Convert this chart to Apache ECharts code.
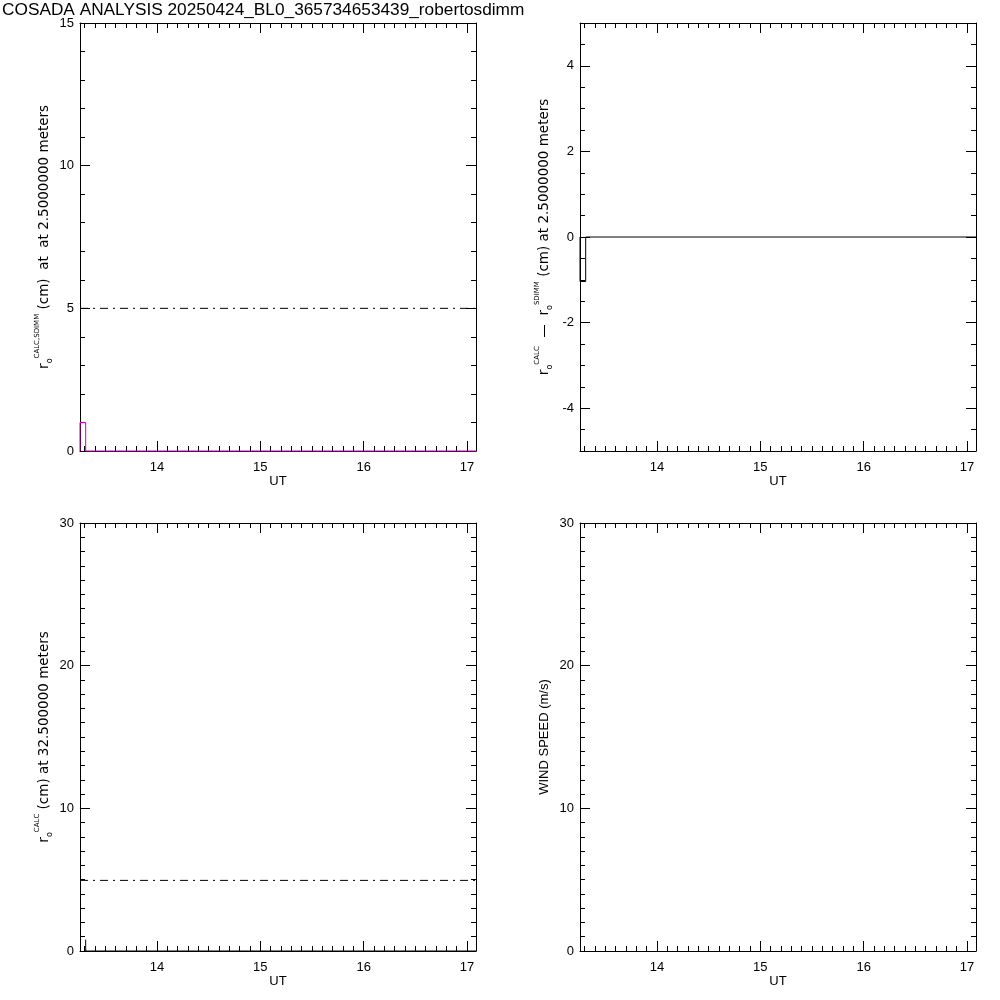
<!DOCTYPE html>
<html><head><meta charset="utf-8">
<script src="https://cdn.jsdelivr.net/npm/echarts@6/dist/echarts.min.js"></script>
<style>html,body{margin:0;padding:0;background:#fff}#c{width:1000px;height:1000px}</style>
</head><body><div id="c"></div>
<script>
// ---------- data ----------
const titleText = 'COSADA ANALYSIS 20250424_BL0_365734653439_robertosdimm';
const utRange = [13.255, 17.087];
const utMajorTicks = [14, 15, 16, 17];
const utMinorTicks = [13.3,13.4,13.5,13.6,13.7,13.8,13.9,14.1,14.2,14.3,14.4,14.5,14.6,14.7,14.8,14.9,
  15.1,15.2,15.3,15.4,15.5,15.6,15.7,15.8,15.9,16.1,16.2,16.3,16.4,16.5,16.6,16.7,16.8,16.9,17.0];

// top-left: r0 CALC,SDIMM at 2.5 m (histogram, magenta) and reference line
const histUT = [13.255, 13.255, 13.31, 13.31, 17.087];
const r0CalcSdimm = [0, 1, 1, 0, 0];
const refUT = [13.255, 17.087];
const r0Ref25 = [5, 5];
// top-right: r0 CALC - r0 SDIMM
const r0Diff = [0, -1.04, -1.04, 0, 0];
// bottom-left: r0 CALC at 32.5 m
const histUT32 = [13.31, 13.31, 17.087];
const r0Calc32 = [0.8, 0, 0];
const r0Ref32 = [4.95, 4.95];
// bottom-right: wind speed (no data)

// y-axis ticks
const yTL = {min: 0, max: 15, major: [0, 5, 10, 15], minor: [1,2,3,4,6,7,8,9,11,12,13,14]};
const yTR = {min: -5, max: 5, major: [-4, -2, 0, 2, 4],
  minor: [-4.5,-3.5,-3,-2.5,-1.5,-1,-0.5,0.5,1,1.5,2.5,3,3.5,4.5]};
const yB = {min: 0, max: 30, major: [0, 10, 20, 30],
  minor: [1,2,3,4,5,6,7,8,9,11,12,13,14,15,16,17,18,19,21,22,23,24,25,26,27,28,29]};

// ---------- layout / styles ----------
const FONT = 'Liberation Sans';
const LFONT = 'DejaVu Sans';
const LH = 20;
const rich = {
  r: {fontSize: 14, fontFamily: LFONT, color: '#000', lineHeight: LH},
  sub: {fontSize: 8, fontFamily: LFONT, color: '#000', verticalAlign: 'bottom', lineHeight: 9},
  sup: {fontSize: 7, fontFamily: LFONT, color: '#000', verticalAlign: 'top', lineHeight: 8},
  n: {fontSize: 13.5, fontFamily: LFONT, color: '#000', lineHeight: LH},
  w: {fontSize: 13, fontFamily: FONT, color: '#000', lineHeight: LH}
};
const panels = [
  {left: 80, top: 23, y: yTL, yName: '{r|r}{sub|o}{sup|CALC,SDIMM}{n| (cm)  at  at 2.5000000 meters}'},
  {left: 580, top: 23, y: yTR, yName: '{r|r}{sub|o}{sup|CALC}{n|  \u2014  r}{sub|o}{sup|SDIMM}{n| (cm) at 2.5000000 meters}'},
  {left: 80, top: 523, y: yB, yName: '{r|r}{sub|o}{sup|CALC}{n| (cm) at 32.500000 meters}'},
  {left: 580, top: 523, y: yB, yName: '{w|WIND SPEED (m/s)}'}
];
const W = 396, H = 428;

const grid = [], xAxis = [], yAxis = [];
const lineC = {lineStyle: {color: '#000', width: 1}};
const noLine = {show: false, onZero: false};
panels.forEach((p, g) => {
  grid.push({left: p.left, top: p.top, width: W, height: H, containLabel: false});
  const xBase = {type: 'value', gridIndex: g, min: utRange[0], max: utRange[1],
    splitLine: {show: false}, axisLine: {show: true, onZero: false, ...lineC}};
  xAxis.push(Object.assign({}, xBase, {position: 'bottom',
    axisTick: {inside: true, length: 10, customValues: utMajorTicks, ...lineC},
    axisLabel: {customValues: utMajorTicks, fontFamily: FONT, fontSize: 13, color: '#000', margin: 10},
    name: 'UT', nameLocation: 'middle', nameGap: 24,
    nameTextStyle: {fontFamily: FONT, fontSize: 13, color: '#000'}}));
  xAxis.push(Object.assign({}, xBase, {position: 'bottom', axisLine: noLine,
    axisTick: {inside: true, length: 5, customValues: utMinorTicks, ...lineC},
    axisLabel: {show: false}}));
  xAxis.push(Object.assign({}, xBase, {position: 'top',
    axisTick: {inside: true, length: 10, customValues: utMajorTicks, ...lineC},
    axisLabel: {show: false}}));
  xAxis.push(Object.assign({}, xBase, {position: 'top', axisLine: noLine,
    axisTick: {inside: true, length: 5, customValues: utMinorTicks, ...lineC},
    axisLabel: {show: false}}));
  const yBase = {type: 'value', gridIndex: g, min: p.y.min, max: p.y.max,
    splitLine: {show: false}, axisLine: {show: true, onZero: false, ...lineC}};
  yAxis.push(Object.assign({}, yBase, {position: 'left',
    axisTick: {inside: true, length: 10, customValues: p.y.major, ...lineC},
    axisLabel: {customValues: p.y.major, fontFamily: FONT, fontSize: 13, color: '#000', margin: 6},
    name: p.yName, nameLocation: 'middle', nameGap: 26, nameRotate: 90,
    nameTextStyle: {fontFamily: FONT, fontSize: 13, color: '#000', rich: rich}}));
  yAxis.push(Object.assign({}, yBase, {position: 'left', axisLine: noLine,
    axisTick: {inside: true, length: 5, customValues: p.y.minor, ...lineC},
    axisLabel: {show: false}}));
  yAxis.push(Object.assign({}, yBase, {position: 'right',
    axisTick: {inside: true, length: 10, customValues: p.y.major, ...lineC},
    axisLabel: {show: false}}));
  yAxis.push(Object.assign({}, yBase, {position: 'right', axisLine: noLine,
    axisTick: {inside: true, length: 5, customValues: p.y.minor, ...lineC},
    axisLabel: {show: false}}));
});

const zip = (a, b) => a.map((v, i) => [v, b[i]]);
const mkLine = (g, data, color, dash) => ({
  type: 'line', xAxisIndex: 4 * g, yAxisIndex: 4 * g, data: data, symbol: 'none',
  clip: false, animation: false, silent: true,
  lineStyle: {color: color, width: 1, type: dash || 'solid'}
});
const DASHDOT = [8, 5, 2, 5];
const series = [
  mkLine(0, zip(refUT, r0Ref25), '#000', DASHDOT),
  mkLine(0, zip(histUT, r0CalcSdimm), '#cc00bb'),
  mkLine(1, zip(histUT, r0Diff), '#000'),
  mkLine(2, zip(refUT, r0Ref32), '#000', DASHDOT),
  mkLine(2, zip(histUT32, r0Calc32), '#000')
];

const chart = echarts.init(document.getElementById('c'), null, {renderer: 'canvas'});
chart.setOption({
  backgroundColor: '#fff',
  animation: false,
  title: {text: titleText, left: 0, top: 0, padding: [2, 2],
    textStyle: {fontFamily: FONT, fontSize: 17.25, fontWeight: 'normal', color: '#000'}},
  grid: grid, xAxis: xAxis, yAxis: yAxis, series: series
});
</script></body></html>
